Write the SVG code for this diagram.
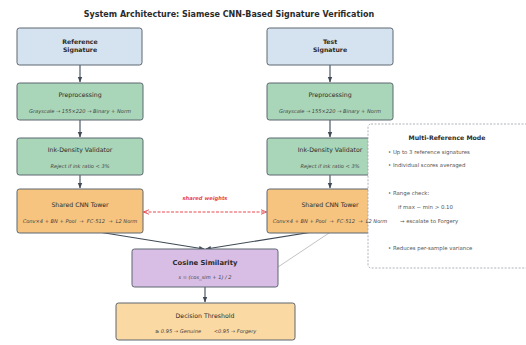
<svg xmlns="http://www.w3.org/2000/svg" width="526" height="345" viewBox="0 0 526 345">
  <style>
    text { font-family: "DejaVu Sans", "Liberation Sans", sans-serif; fill: #2b2b2b; text-anchor: middle; }
    .title { font-size: 8px; font-weight: bold; }
    .hd { font-size: 6.2px; }
    .hdb { font-size: 6.2px; font-weight: bold; }
    .sub { font-size: 5.1px; font-style: italic; fill: #444; white-space: pre; }
    .box { stroke: #5d6670; stroke-width: 1; }
    .blue { fill: #d5e3f0; }
    .green { fill: #a9d5b9; }
    .orange { fill: #f6c47f; }
    .purple { fill: #d8bde4; }
    .peach { fill: #fbd9a3; }
    .flow { stroke: #3f4a56; stroke-width: 1.1; fill: none; }
    .panel { fill: #ffffff; stroke: #9aa0a6; stroke-width: 0.8; stroke-dasharray: 2 1.5; }
    .ptxt { font-size: 5.4px; fill: #555; text-anchor: start; }
    .phd { font-size: 6.2px; font-weight: bold; fill: #2b2b2b; }
  </style>
  <defs>
    <marker id="arr" viewBox="0 0 10 10" refX="9" refY="5" markerWidth="5" markerHeight="5" orient="auto-start-reverse">
      <path d="M0,1 L10,5 L0,9 Z" fill="#3f4a56"/>
    </marker>
    <marker id="arrRed" viewBox="0 0 10 10" refX="9" refY="5" markerWidth="6" markerHeight="6" orient="auto-start-reverse">
      <path d="M0,1 L10,5 L0,9" fill="none" stroke="#e8474d" stroke-width="1.5"/>
    </marker>
  </defs>

  <rect width="526" height="345" fill="#ffffff"/>

  <text class="title" x="229" y="17">System Architecture: Siamese CNN-Based Signature Verification</text>

  <!-- flow connectors -->
  <g id="connectors">
    <line class="flow" x1="80" y1="65" x2="80" y2="82" marker-end="url(#arr)"/>
    <line class="flow" x1="80" y1="120" x2="80" y2="137" marker-end="url(#arr)"/>
    <line class="flow" x1="80" y1="175" x2="80" y2="188" marker-end="url(#arr)"/>
    <line class="flow" x1="330" y1="65" x2="330" y2="82" marker-end="url(#arr)"/>
    <line class="flow" x1="330" y1="120" x2="330" y2="137" marker-end="url(#arr)"/>
    <line class="flow" x1="330" y1="175" x2="330" y2="188" marker-end="url(#arr)"/>
    <line class="flow" x1="80" y1="229" x2="204" y2="249" marker-end="url(#arr)"/>
    <line class="flow" x1="331" y1="229" x2="206" y2="249" marker-end="url(#arr)"/>
    <line class="flow" x1="205" y1="287" x2="205" y2="302" marker-end="url(#arr)"/>
    <line x1="144" y1="212" x2="266" y2="212" stroke="#e8474d" stroke-width="1" stroke-dasharray="3 1.5" marker-start="url(#arrRed)" marker-end="url(#arrRed)"/>
    <text x="205" y="200" font-size="5.2px" font-style="italic" font-weight="bold" style="fill:#e8474d">shared weights</text>
    <line x1="278" y1="267" x2="368" y2="207" stroke="#a8a8a8" stroke-width="0.7"/>
  </g>

  <!-- reference branch -->
  <g id="ref-signature">
    <rect class="box blue" x="17" y="28" width="125" height="37" rx="2.5"/>
    <text class="hdb" x="80" y="44">Reference</text>
    <text class="hdb" x="80" y="52">Signature</text>
  </g>
  <g id="ref-preprocessing">
    <rect class="box green" x="17" y="83" width="126" height="37" rx="2.5"/>
    <text class="hd" x="80" y="97">Preprocessing</text>
    <text class="sub" x="80" y="112.5">Grayscale → 155×220 → Binary + Norm</text>
  </g>
  <g id="ref-ink-density">
    <rect class="box green" x="17" y="138" width="126" height="37" rx="2.5"/>
    <text class="hd" x="80" y="152">Ink-Density Validator</text>
    <text class="sub" x="80" y="167.5">Reject if ink ratio &lt; 3%</text>
  </g>
  <g id="ref-cnn">
    <rect class="box orange" x="17" y="189" width="126" height="44" rx="2.5"/>
    <text class="hd" x="80" y="207">Shared CNN Tower</text>
    <text class="sub" x="80" y="222.5" xml:space="preserve">Conv×4 + BN + Pool  →  FC-512  →  L2 Norm</text>
  </g>

  <!-- test branch -->
  <g id="test-signature">
    <rect class="box blue" x="267" y="28" width="126" height="37" rx="2.5"/>
    <text class="hdb" x="330" y="44">Test</text>
    <text class="hdb" x="330" y="52">Signature</text>
  </g>
  <g id="test-preprocessing">
    <rect class="box green" x="267" y="83" width="126" height="37" rx="2.5"/>
    <text class="hd" x="330" y="97">Preprocessing</text>
    <text class="sub" x="330" y="112.5">Grayscale → 155×220 → Binary + Norm</text>
  </g>
  <g id="test-ink-density">
    <rect class="box green" x="267" y="138" width="126" height="37" rx="2.5"/>
  </g>
  <g id="test-cnn">
    <rect class="box orange" x="267" y="189" width="126" height="44" rx="2.5"/>
  </g>

  <!-- similarity and decision -->
  <g id="cosine">
    <rect class="box purple" x="132" y="249" width="146" height="38" rx="2.5"/>
    <text class="hdb" x="205" y="265" style="font-size:6.8px">Cosine Similarity</text>
    <text class="sub" x="205" y="278.5">s = (cos_sim + 1) / 2</text>
  </g>
  <g id="decision">
    <rect class="box peach" x="116" y="303" width="179" height="37" rx="2.5"/>
    <text class="hd" x="205" y="318">Decision Threshold</text>
    <text class="sub" x="178" y="332.5">≥ 0.95 → Genuine</text>
    <text class="sub" x="235" y="332.5">&lt;0.95 → Forgery</text>
  </g>

  <!-- multi-reference note panel -->
  <g id="multi-reference">
    <rect class="panel" x="368" y="124" width="163" height="144" rx="3"/>
  </g>

  <!-- test branch labels sit above the note panel -->
  <g id="test-labels">
    <text class="hd" x="330" y="152">Ink-Density Validator</text>
    <text class="sub" x="330" y="167.5">Reject if ink ratio &lt; 3%</text>
    <text class="hd" x="330" y="207">Shared CNN Tower</text>
    <text class="sub" x="330" y="222.5" xml:space="preserve">Conv×4 + BN + Pool  →  FC-512  →  L2 Norm</text>
  </g>

  <g id="multi-reference-text">
    <text class="phd" x="447" y="140">Multi-Reference Mode</text>
    <text class="ptxt" x="388" y="154">•  Up to 3 reference signatures</text>
    <text class="ptxt" x="388" y="167">•  Individual scores averaged</text>
    <text class="ptxt" x="388" y="195">•  Range check:</text>
    <text class="ptxt" x="398" y="209">if max − min &gt; 0.10</text>
    <text class="ptxt" x="400" y="223">→ escalate to Forgery</text>
    <text class="ptxt" x="388" y="250">•  Reduces per-sample variance</text>
  </g>
</svg>
